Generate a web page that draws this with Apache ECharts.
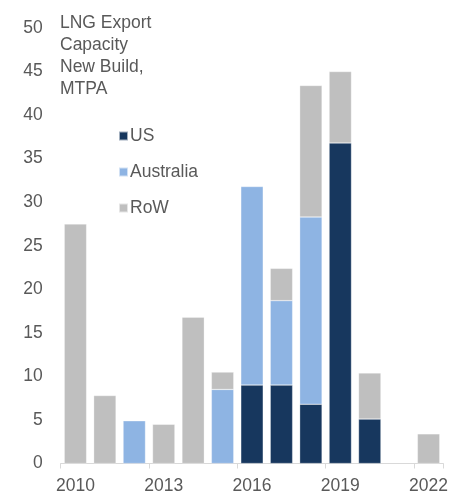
<!DOCTYPE html>
<html><head><meta charset="utf-8">
<script src="https://cdn.jsdelivr.net/npm/echarts@6/dist/echarts.min.js"></script>
<style>html,body{margin:0;padding:0;background:#fff}#c{width:450px;height:494px}</style>
</head><body><div id="c"></div>
<script>
const categories = ['2010','2011','2012','2013','2014','2015','2016','2017','2018','2019','2020','2021','2022'];
const usValues =        [0, 0, 0, 0, 0, 0, 9.0, 9.0, 6.8, 36.8, 5.1, 0, 0];
const australiaValues = [0, 0, 4.9, 0, 0, 8.5, 22.8, 9.7, 21.5, 0, 0, 0, 0];
const rowValues =       [27.5, 7.8, 0, 4.5, 16.8, 2.0, 0, 3.7, 15.1, 8.2, 5.3, 0, 3.4];
const yTicks = [0,5,10,15,20,25,30,35,40,45,50];

const font = 'Liberation Sans, Arial, sans-serif';
const txt = '#595959';
const chart = echarts.init(document.getElementById('c'), null, {renderer:'canvas'});
function z(a){return a.map(v => v === 0 ? null : v);}
const bar = (name, data, color) => ({
  name, type:'bar', stack:'a', data:z(data), barCategoryGap:'24%',
  itemStyle:{color, borderColor:'rgba(255,255,255,0.6)', borderWidth:0.5},
  emphasis:{disabled:true}
});
chart.setOption({
  animation:false,
  textStyle:{fontFamily:font},
  title:{text:'LNG Export\nCapacity\nNew Build,\nMTPA', left:55, top:7,
    textStyle:{fontFamily:font, fontSize:17.5, fontWeight:'normal', color:txt, lineHeight:22}},
  legend:{orient:'vertical', left:113, top:122, itemWidth:9, itemHeight:9, itemGap:18,
    icon:'rect', data:['US','Australia','RoW'],
    textStyle:{fontFamily:font, fontSize:17.5, color:txt, padding:[0,0,0,-3]}},
  grid:{left:60.7, right:6.7, top:28, bottom:30.5, containLabel:false, outerBoundsMode:'none'},
  xAxis:{type:'category', data:categories,
    axisLine:{lineStyle:{color:'#D9D9D9', width:1}},
    axisTick:{show:true, interval:2, length:5, lineStyle:{color:'#D9D9D9'}},
    axisLabel:{interval:2, fontSize:17.5, color:txt, fontFamily:font, margin:14}},
  yAxis:{type:'value', min:0, max:50, interval:5,
    splitLine:{show:false}, axisLine:{show:false}, axisTick:{show:false},
    axisLabel:{fontSize:17.5, color:txt, fontFamily:font, margin:18,
      formatter:v => yTicks.includes(v) ? String(v) : ''}},
  series:[
    bar('US', usValues, '#17375E'),
    bar('Australia', australiaValues, '#8EB4E3'),
    bar('RoW', rowValues, '#BFBFBF')
  ]
});
</script></body></html>
